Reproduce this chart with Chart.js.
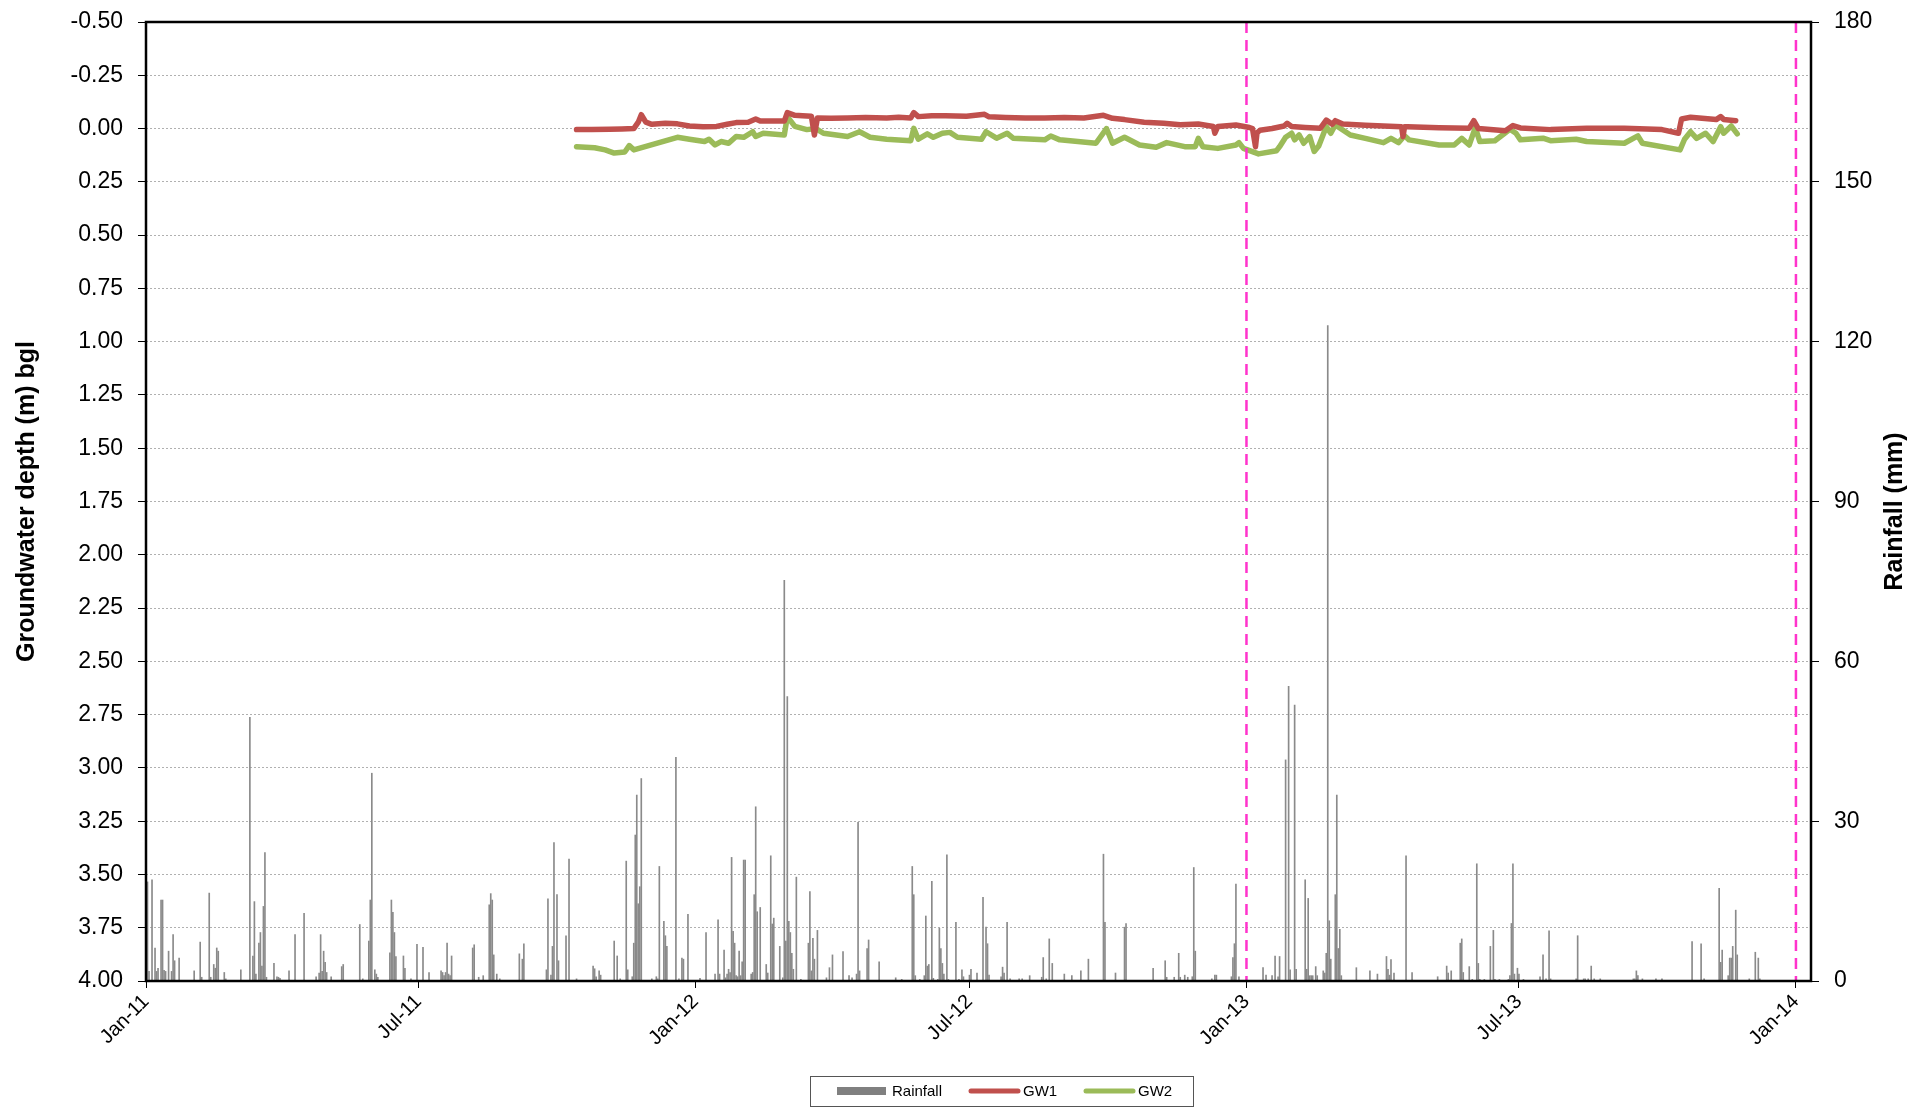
<!DOCTYPE html>
<html>
<head>
<meta charset="utf-8">
<script src="https://cdn.jsdelivr.net/npm/chart.js@4.4.1/dist/chart.umd.min.js"></script>
<style>
html,body{margin:0;padding:0;background:#fff;}
#wrap{width:1926px;height:1107px;position:relative;}
</style>
</head>
<body>
<div id="wrap"><canvas id="c" width="1926" height="1107"></canvas></div>
<script>
// x values are days counted from this date
const BASE_DATE = '2011-01-01';
const tickDays   = [0, 181, 365, 547, 731, 912, 1096];
const tickLabels = ['Jan-11','Jul-11','Jan-12','Jul-12','Jan-13','Jul-13','Jan-14'];
const markerDays = [731, 1096];

const rainDay = [
 1,2,4,6,7,8,10,11,12,13,15,17,18,19,22,32,36,37,42,43,45,46,47,48,52,53,63,69,71,72,73,75,76,77,78,79,80,85,87,88,89,95,99,105,113,115,116,117,118,119,120,123,130,131,142,144,148,149,150,152,153,154,162,163,164,165,166,171,172,176,180,
 184,188,196,197,198,199,200,201,202,203,217,218,221,224,228,229,230,231,233,235,248,250,251,266,267,269,270,271,273,274,279,281,286,297,298,299,301,302,311,313,315,319,320,323,324,325,326,327,328,329,336,339,340,341,344,345,346,352,354,356,357,360,
 368,372,378,380,381,384,385,386,387,388,389,390,391,392,393,394,395,396,397,398,402,403,404,405,406,408,412,413,415,416,417,421,423,424,425,426,427,428,429,430,432,435,440,441,442,443,444,446,452,454,456,463,467,469,472,473,474,479,480,487,498,502,509,510,511,514,517,518,519,520,522,523,526,527,528,529,530,532,533,538,540,542,543,547,548,552,
 556,558,559,560,568,569,570,572,574,580,582,587,595,596,598,600,602,610,615,621,626,636,637,644,650,651,669,677,678,683,686,687,690,692,695,696,697,708,710,711,721,722,723,724,726,
 742,744,748,750,752,753,757,759,760,763,764,770,771,772,773,774,775,777,778,782,783,784,785,786,787,790,791,792,793,794,804,813,818,824,825,826,827,829,837,841,858,864,865,867,873,874,875,879,881,884,885,886,889,893,895,896,899,905,906,907,908,909,911,912,915,
 926,928,930,932,933,950,951,955,956,958,960,962,966,988,989,990,991,994,1003,1007,1027,1033,1035,1045,1046,1047,1051,1052,1053,1054,1056,1057,1065,1069,1071,1072
];
const rainMm = [
 18.6,1.8,19.0,6.2,1.8,2.4,15.2,15.2,2.0,1.8,5.6,1.8,8.7,3.8,4.3,1.9,7.3,0.7,16.5,0.7,3.1,2.4,6.2,5.6,1.6,0.4,2.1,49.5,4.7,14.9,1.3,7.1,9.1,2.8,14.0,24.1,0.7,3.3,0.8,0.7,0.5,1.9,8.7,12.7,0.8,1.5,8.7,1.8,5.6,3.5,1.6,0.8,2.7,3.1,10.6,0.4,7.5,15.2,39.0,2.1,1.3,0.7,5.3,15.2,12.9,9.1,4.6,4.7,2.4,0.4,6.9,
 6.3,1.6,1.9,1.6,1.0,1.6,7.1,1.3,1.0,4.7,6.2,6.8,0.7,1.0,14.3,16.4,15.2,4.9,1.3,0.4,5.1,4.1,7.0,2.1,15.4,1.1,6.5,26.0,16.2,3.8,8.5,22.9,0.4,2.8,2.3,0.8,1.9,1.1,7.5,4.7,0.4,22.5,2.1,0.8,7.1,27.4,34.9,14.5,17.7,38.0,0.4,0.8,0.4,21.5,11.2,8.5,6.5,42.0,0.4,4.3,4.1,12.5,
 0.5,9.1,1.3,11.5,1.3,5.8,0.6,1.3,2.2,1.6,23.2,9.3,7.1,1.0,0.8,5.6,1.0,3.6,22.7,22.7,1.3,1.6,16.2,32.7,13.0,13.8,3.1,1.5,23.5,10.7,11.8,6.5,0.6,75.2,7.5,53.4,11.2,9.1,5.2,2.2,19.5,0.3,7.1,16.8,1.9,8.0,4.1,9.5,0.6,2.5,4.9,5.5,1.0,0.6,1.3,29.8,1.9,6.1,7.7,3.6,0.6,0.3,21.5,16.2,1.0,0.3,1.0,12.2,2.8,3.1,18.7,0.5,0.3,9.9,6.1,3.3,1.3,23.7,0.3,11.0,0.3,2.1,0.8,1.1,2.2,1.5,
 15.7,10.1,7.0,1.1,0.8,2.6,1.5,11.0,0.4,0.4,0.4,1.0,0.7,4.4,0.4,7.9,3.3,1.3,1.0,1.9,4.1,23.8,11.0,1.5,10.1,10.8,2.4,3.8,0.7,0.7,5.2,0.7,1.1,0.7,0.8,21.3,5.6,0.4,1.1,1.1,0.8,4.4,7.0,18.2,0.8,
 2.5,1.1,1.0,4.7,0.8,4.6,41.5,55.3,2.1,51.8,2.2,19.0,2.2,15.5,1.0,1.0,1.0,2.7,1.0,1.9,1.5,5.2,123.0,11.3,4.1,16.2,34.9,6.1,9.7,1.0,2.5,1.9,1.3,4.6,2.2,1.1,4.0,1.5,23.5,1.6,0.8,2.8,1.5,1.9,7.1,7.9,1.6,2.7,0.3,22.0,3.3,0.3,0.3,6.5,9.5,0.3,0.3,0.3,1.0,10.8,22.0,1.3,2.4,1.3,0.3,
 0.8,4.9,0.4,9.4,0.4,0.4,8.5,0.4,0.4,0.4,2.8,0.4,0.4,0.4,0.4,1.9,1.0,0.4,0.4,0.4,7.4,7.0,0.4,17.4,3.5,5.8,1.0,4.3,4.3,6.5,13.3,4.9,0.4,5.4,4.3,0.4
];

const gw1Day = [286,296,308,316,324,327,329,332,336,345,353,361,370,379,386,392,400,405,408,416,424,426,431,436,442,444,446,455,466,478,492,500,508,510,513,522,531,545,557,560,571,584,597,610,623,636,642,650,663,676,687,699,709,710,712,724,733,735,737,738,740,748,756,758,761,770,780,784,788,790,795,810,822,834,835,836,838,859,879,882,885,903,908,913,933,957,982,1007,1018,1020,1026,1043,1046,1048,1056];
const gw1Depth = [0.005,0.004,0.003,0.002,0.0,-0.03,-0.065,-0.03,-0.02,-0.025,-0.022,-0.012,-0.008,-0.01,-0.02,-0.028,-0.03,-0.045,-0.035,-0.036,-0.035,-0.075,-0.062,-0.06,-0.058,0.03,-0.05,-0.048,-0.05,-0.052,-0.05,-0.053,-0.05,-0.075,-0.056,-0.06,-0.06,-0.058,-0.067,-0.055,-0.052,-0.05,-0.05,-0.052,-0.05,-0.062,-0.048,-0.042,-0.03,-0.025,-0.018,-0.021,-0.01,0.022,-0.01,-0.017,-0.005,0.0,0.085,0.02,0.008,0.0,-0.012,-0.025,-0.01,-0.005,-0.001,-0.04,-0.02,-0.037,-0.021,-0.015,-0.012,-0.009,0.038,-0.008,-0.008,-0.004,-0.002,-0.037,0.0,0.01,-0.014,-0.003,0.005,-0.001,-0.002,0.005,0.022,-0.045,-0.053,-0.042,-0.056,-0.043,-0.037];

const gw2Day = [286,298,305,311,318,321,324,353,361,371,374,378,382,387,392,397,403,405,410,424,426,431,439,445,450,466,474,481,492,508,510,513,519,523,529,534,539,555,558,565,572,576,597,601,607,631,638,642,650,660,671,678,690,697,699,702,712,724,726,729,739,751,753,757,761,763,766,769,773,776,779,784,787,790,800,810,822,827,832,836,839,859,869,874,879,883,886,896,906,910,913,928,933,950,957,982,991,994,1019,1022,1026,1030,1036,1041,1046,1048,1053,1057];
const gw2Depth = [0.085,0.09,0.1,0.115,0.11,0.08,0.1,0.041,0.05,0.061,0.05,0.077,0.061,0.069,0.037,0.041,0.015,0.037,0.022,0.03,-0.056,-0.01,0.005,0.0,0.022,0.037,0.015,0.041,0.05,0.057,-0.001,0.05,0.025,0.041,0.022,0.018,0.041,0.05,0.015,0.045,0.022,0.045,0.053,0.035,0.053,0.069,0.0,0.069,0.041,0.077,0.088,0.066,0.085,0.085,0.046,0.085,0.093,0.077,0.066,0.093,0.119,0.104,0.085,0.041,0.022,0.053,0.03,0.069,0.038,0.107,0.082,-0.009,0.022,-0.017,0.03,0.046,0.066,0.046,0.066,0.034,0.053,0.077,0.077,0.046,0.077,-0.004,0.061,0.057,0.003,0.022,0.053,0.045,0.057,0.05,0.061,0.069,0.034,0.069,0.1,0.05,0.015,0.046,0.022,0.061,-0.009,0.022,-0.012,0.025];

const FONT = "'Liberation Sans', Arial, Helvetica, sans-serif";
const C_RAIN = '#8a8a8a', C_GW1 = '#C0504D', C_GW2 = '#9BBB59', C_MARK = '#FF33CC';

const pts = (xs, ys) => xs.map((x, i) => ({x: x, y: ys[i]}));

const frame = {
  id: 'frame',
  afterDatasetsDraw(chart) {
    const {ctx, chartArea: a} = chart;
    ctx.save();
    ctx.strokeStyle = '#000';
    ctx.lineWidth = 2.5;
    ctx.strokeRect(a.left, a.top, a.right - a.left, a.bottom - a.top);
    ctx.restore();
  }
};

const extras = {
  id: 'extras',
  afterDraw(chart) {
    const {ctx, chartArea: a} = chart;
    ctx.save();
    // right axis title (reads bottom to top)
    const t = chart.options.scales.y1.title;
    ctx.font = 'bold 25px ' + FONT;
    ctx.fillStyle = '#000';
    ctx.textAlign = 'center';
    ctx.textBaseline = 'middle';
    ctx.translate(1895, (a.top + a.bottom) / 2 + 10);
    ctx.rotate(-Math.PI / 2);
    ctx.fillText(t.text, 0, 0);
    ctx.restore();

    // legend box
    ctx.save();
    const L = {x: 810, y: 1076, w: 383, h: 30};
    ctx.fillStyle = '#fff';
    ctx.fillRect(L.x, L.y, L.w, L.h);
    ctx.strokeStyle = '#555';
    ctx.lineWidth = 1;
    ctx.strokeRect(L.x + 0.5, L.y + 0.5, L.w, L.h);
    const cy = L.y + 15;
    const ds = chart.data.datasets.filter(d => !d.hideInLegend);
    const slots = [27, 158, 273];
    ctx.font = '15px ' + FONT;
    ctx.textBaseline = 'middle';
    ctx.textAlign = 'left';
    ds.forEach((d, i) => {
      const sx = L.x + slots[i];
      if (d.type === 'bar') {
        ctx.fillStyle = '#808080';
        ctx.fillRect(sx, cy - 4, 49, 8);
      } else {
        ctx.strokeStyle = d.borderColor;
        ctx.lineWidth = 5;
        ctx.lineCap = 'round';
        ctx.beginPath();
        ctx.moveTo(sx + 3, cy);
        ctx.lineTo(sx + 50, cy);
        ctx.stroke();
      }
      ctx.fillStyle = '#000';
      ctx.fillText(d.label, sx + 55, cy + 1);
    });
    ctx.restore();
  }
};

const datasets = [
  ...markerDays.map(d => ({
    type: 'line', label: 'marker', hideInLegend: true,
    data: [{x: d, y: -0.5}, {x: d, y: 4}],
    yAxisID: 'y', borderColor: C_MARK, borderWidth: 2.5, borderDash: [11, 7],
    pointRadius: 0, fill: false, order: 0, clip: false
  })),
  {
    type: 'line', label: 'GW1', data: pts(gw1Day, gw1Depth), yAxisID: 'y',
    borderColor: C_GW1, backgroundColor: C_GW1, borderWidth: 5.5, pointRadius: 0,
    fill: false, tension: 0, borderJoinStyle: 'round', borderCapStyle: 'round', order: 1
  },
  {
    type: 'line', label: 'GW2', data: pts(gw2Day, gw2Depth), yAxisID: 'y',
    borderColor: C_GW2, backgroundColor: C_GW2, borderWidth: 5.5, pointRadius: 0,
    fill: false, tension: 0, borderJoinStyle: 'round', borderCapStyle: 'round', order: 2
  },
  {
    type: 'bar', label: 'Rainfall', data: pts(rainDay, rainMm), yAxisID: 'y1',
    backgroundColor: C_RAIN, borderWidth: 0, barThickness: 1, order: 5
  }
];
// legend order: Rainfall, GW1, GW2
const legendOrder = ['Rainfall', 'GW1', 'GW2'];
datasets.forEach(d => { if (legendOrder.indexOf(d.label) < 0) d.hideInLegend = true; });
const chartDatasets = datasets.slice().sort((a, b) => {
  const ia = legendOrder.indexOf(a.label), ib = legendOrder.indexOf(b.label);
  return (ia < 0 ? 9 : ia) - (ib < 0 ? 9 : ib);
});

const fixVert = w => s => { s.width = w; s.paddingTop = 0; s.paddingBottom = 0; };

new Chart(document.getElementById('c'), {
  type: 'bar',
  data: { datasets: chartDatasets },
  options: {
    responsive: false,
    animation: false,
    devicePixelRatio: 1,
    layout: { padding: { top: 22, left: 0, right: 0, bottom: 0 } },
    plugins: { legend: { display: false }, tooltip: { enabled: false } },
    scales: {
      x: {
        type: 'linear', min: 0, max: 1106, offset: false,
        afterFit: s => { s.height = 126; s.paddingLeft = 0; s.paddingRight = 0; },
        afterBuildTicks: s => { s.ticks = tickDays.map(v => ({value: v})); },
        grid: { drawOnChartArea: false, offset: false, tickLength: 7, color: '#000', tickColor: '#000' },
        border: { display: false },
        ticks: {
          autoSkip: false, minRotation: 45, maxRotation: 45, padding: 2, color: '#000',
          font: { family: FONT, size: 20 },
          callback: v => { const i = tickDays.indexOf(v); return i >= 0 ? tickLabels[i] : ''; }
        }
      },
      y: {
        type: 'linear', position: 'left', reverse: true, min: -0.5, max: 4,
        afterFit: fixVert(146),
        grid: { color: '#b0b0b0', lineWidth: 1, tickLength: 8, tickColor: '#000', tickBorderDash: [] },
        border: { display: false, dash: [2, 2] },
        ticks: {
          stepSize: 0.25, padding: 15, color: '#000',
          font: { family: FONT, size: 23 },
          callback: v => (Math.abs(v) < 1e-9 ? 0 : v).toFixed(2)
        },
        title: {
          display: true, text: 'Groundwater depth (m) bgl', color: '#000',
          font: { family: FONT, size: 25, weight: 'bold' }, padding: { top: 12, bottom: 0 }
        }
      },
      y1: {
        type: 'linear', position: 'right', min: 0, max: 180,
        afterFit: fixVert(115),
        grid: { drawOnChartArea: false, tickLength: 8, color: '#000', tickColor: '#000' },
        border: { display: false },
        ticks: { stepSize: 30, padding: 15, color: '#000', font: { family: FONT, size: 23 } },
        title: { display: false, text: 'Rainfall (mm)' }
      }
    }
  },
  plugins: [frame, extras]
});
</script>
</body>
</html>
